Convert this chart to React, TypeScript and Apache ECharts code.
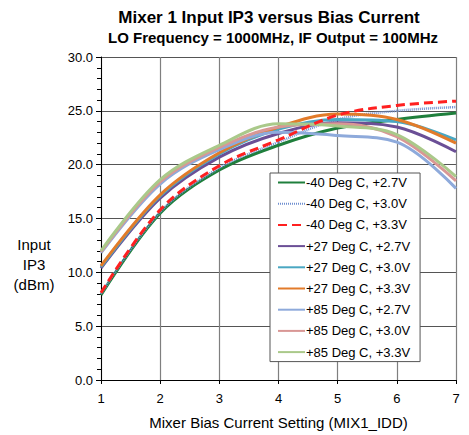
import React, { useEffect, useRef } from "react";
import * as echarts from "echarts";

const biasSettings = [1, 2, 3, 4, 5, 6, 7];
const seriesNames = [
  "-40 Deg C, +2.7V",
  "-40 Deg C, +3.0V",
  "-40 Deg C, +3.3V",
  "+27 Deg C, +2.7V",
  "+27 Deg C, +3.0V",
  "+27 Deg C, +3.3V",
  "+85 Deg C, +2.7V",
  "+85 Deg C, +3.0V",
  "+85 Deg C, +3.3V",
];
const m40_27 = [7.9, 15.5, 19.5, 21.8, 23.4, 24.2, 24.8];
const m40_30 = [8.0, 15.6, 19.7, 22.1, 24.2, 25.0, 25.35];
const m40_33 = [8.1, 15.8, 19.9, 22.3, 24.6, 25.5, 25.9];
const p27_27 = [10.4, 16.9, 20.7, 22.9, 23.9, 23.5, 21.2];
const p27_30 = [10.5, 17.1, 21.0, 23.3, 24.2, 24.0, 22.3];
const p27_33 = [10.6, 17.2, 21.1, 23.5, 24.7, 24.2, 22.0];
const p85_27 = [11.8, 18.2, 21.4, 23.0, 22.7, 22.1, 17.8];
const p85_30 = [11.9, 18.4, 21.6, 23.5, 23.8, 22.6, 18.5];
const p85_33 = [12.0, 18.6, 21.8, 23.8, 23.6, 22.8, 18.9];
const yTicks = [0, 5, 10, 15, 20, 25, 30];

const allValues = [m40_27, m40_30, m40_33, p27_27, p27_30, p27_33, p85_27, p85_30, p85_33];
const colors = ["#1f7f3c", "#6f8fd0", "#ff2020", "#6b4f96", "#4aa7c2", "#e27b2a", "#8eaadb", "#d99795", "#aac98a"];
const lineTypes: any[] = ["solid", [1, 1], [9, 5], "solid", "solid", "solid", "solid", "solid", "solid"];
const widths = [3, 2.5, 3, 3, 3, 3, 3, 3, 3];
const zOrder = [1, 2, 9, 3, 4, 5, 6, 7, 8];

export default function App() {
  const ref = useRef<HTMLDivElement>(null);
  useEffect(() => {
    if (!ref.current) return;
    const chart = echarts.init(ref.current, null, { renderer: "svg" });
    const font = "'Liberation Sans', Arial, sans-serif";
    const series = allValues.map((vals, i) => ({
      name: seriesNames[i],
      type: "line",
      smooth: 0.35,
      symbol: "none",
      showSymbol: false,
      z: zOrder[i],
      data: vals.map((v, j) => [biasSettings[j], v]),
      lineStyle: { color: colors[i], width: widths[i], type: lineTypes[i] },
      itemStyle: { color: colors[i] },
    }));
    chart.setOption({
      animation: false,
      backgroundColor: "#ffffff",
      textStyle: { fontFamily: font },
      title: [
        {
          text: "Mixer 1 Input IP3 versus Bias Current",
          left: 264,
          top: 4,
          textAlign: "center",
          textStyle: { fontSize: 17, fontWeight: "bold", color: "#000", fontFamily: font },
        },
        {
          text: "LO Frequency = 1000MHz, IF Output = 100MHz",
          left: 268,
          top: 25,
          textAlign: "center",
          textStyle: { fontSize: 15, fontWeight: "bold", color: "#000", fontFamily: font },
        },
      ],
      graphic: [
        {
          type: "text",
          x: 34,
          y: 234,
          style: {
            text: "Input\nIP3\n(dBm)",
            fontSize: 15,
            lineHeight: 20,
            fill: "#000",
            align: "center",
            verticalAlign: "top",
            fontFamily: font,
          },
        },
      ],
      legend: {
        orient: "vertical",
        left: 270,
        top: 173,
        data: seriesNames,
        backgroundColor: "#ffffff",
        borderColor: "#555",
        borderWidth: 1,
        borderRadius: 0,
        padding: [3, 10, 3, 7],
        itemWidth: 27,
        itemHeight: 14,
        itemGap: 8.2,
        itemStyle: { opacity: 0 },
        textStyle: { fontSize: 13, color: "#000", fontFamily: font, padding: [0, 0, 0, -4] },
      },
      grid: { left: 101, right: 13, top: 57, bottom: 54, containLabel: false },
      xAxis: {
        type: "value",
        min: 1,
        max: 7,
        interval: 1,
        name: "Mixer Bias Current Setting (MIX1_IDD)",
        nameLocation: "middle",
        nameGap: 35,
        nameTextStyle: { fontSize: 15, color: "#000", fontFamily: font },
        axisLine: { lineStyle: { color: "#000", width: 1 } },
        axisTick: { show: true, length: 4, lineStyle: { color: "#000" } },
        axisLabel: { fontSize: 13, color: "#000", margin: 12, fontFamily: font },
        splitLine: { show: true, lineStyle: { color: "#7f7f7f", width: 1.2 } },
      },
      yAxis: {
        type: "value",
        min: yTicks[0],
        max: yTicks[yTicks.length - 1],
        interval: 5,
        axisLine: { show: true, lineStyle: { color: "#000", width: 1 } },
        axisTick: { show: true, length: 5, lineStyle: { color: "#000" } },
        minorTick: { show: true, splitNumber: 5, length: 4, lineStyle: { color: "#000" } },
        axisLabel: {
          fontSize: 13,
          color: "#000",
          margin: 8,
          fontFamily: font,
          formatter: (v: number) => v.toFixed(1),
        },
        splitLine: { show: true, lineStyle: { color: "#555", width: 1.2 } },
      },
      series,
    });
    return () => chart.dispose();
  }, []);
  return <div ref={ref} style={{ width: 469, height: 435, marginLeft: -8, marginTop: -8 }} />;
}
